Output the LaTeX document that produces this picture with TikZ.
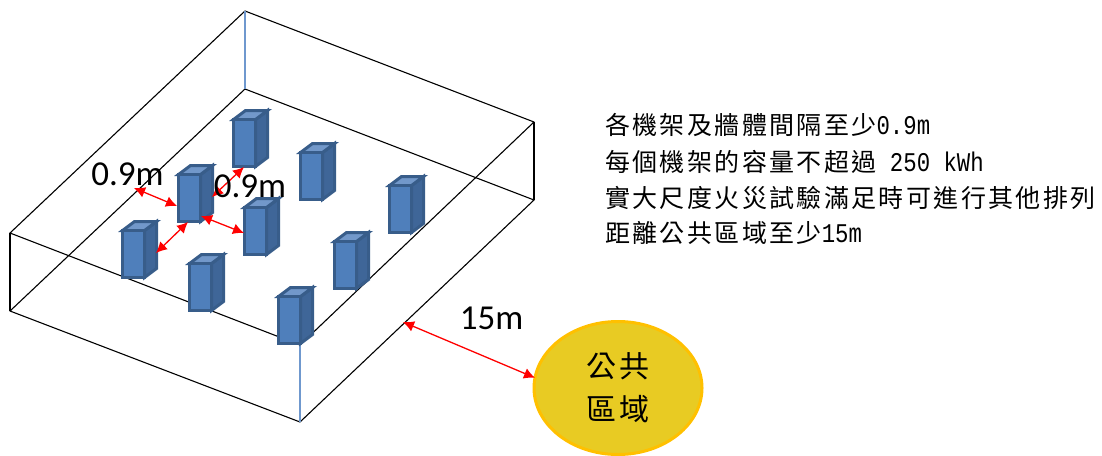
\documentclass[tikz,border=0pt]{standalone}
\usepackage{fontspec}
\usetikzlibrary{shapes.geometric,arrows.meta}
\setmainfont{Carlito}
\newfontfamily\cjkline[LetterSpace=9.5]{Noto Sans CJK TC}
\newfontfamily\cjkpub[LetterSpace=8]{Noto Sans CJK TC}
\newfontfamily\latmono[FakeStretch=0.827]{Liberation Mono}
\newcommand{\lat}[1]{{\fontsize{27}{30}\selectfont\latmono #1}}
\definecolor{rackfront}{HTML}{4F7FBB}
\definecolor{rackedge}{HTML}{385D8A}
\definecolor{rackside}{HTML}{3F6698}
\definecolor{racktop}{HTML}{7298CA}
\definecolor{blueedge}{HTML}{6F98CE}
\definecolor{pubfill}{HTML}{E8CB23}
\definecolor{pubedge}{HTML}{FFC000}
\tikzset{
  x=1pt,y=-1pt,
  wire/.style={draw=black,line width=1.1pt},
  bluewire/.style={draw=blueedge,line width=1.3pt},
  gap/.style={draw=red,line width=1.3pt,{Latex[length=11pt,width=11pt]}-{Latex[length=11pt,width=11pt]},shorten >=0pt,shorten <=0pt},
  note/.style={anchor=base west,inner sep=0pt,font=\fontsize{25}{30}\selectfont\cjkline},
  dim/.style={inner sep=0pt,font=\fontsize{35}{38}\selectfont,text=black},
  public/.style={ellipse,draw=pubedge,fill=pubfill,line width=3pt,minimum width=168pt,minimum height=133pt,inner sep=0pt,outer sep=0pt,align=center,font=\fontsize{30}{43}\selectfont\cjkpub},
  rackbox/.pic={
    \filldraw[fill=rackside,draw=rackedge,line width=3pt,line join=miter] (22,0)--(34,-9)--(34,-56)--(22,-47)--cycle;
    \filldraw[fill=racktop,draw=rackedge,line width=3pt,line join=miter] (0,-47)--(12,-56)--(34,-56)--(22,-47)--cycle;
    \filldraw[fill=rackfront,draw=rackedge,line width=3pt,line join=miter] (0,0) rectangle (22,-47);
  }
}
\begin{document}
\begin{tikzpicture}
\useasboundingbox (0,0) rectangle (1102,455);
% box corners
\coordinate (tb) at (245,11);
\coordinate (tl) at (10,233);
\coordinate (tr) at (534,122);
\coordinate (tf) at (300,345);
\coordinate (bb) at (245,89);
\coordinate (bl) at (10,311);
\coordinate (br) at (534,200);
\coordinate (bf) at (300,422);
\draw[wire,line join=round] (tb)--(tr)--(tf)--(tl)--cycle;
\draw[wire,line join=round] (bb)--(br)--(bf)--(bl)--cycle;
\draw[wire] (tl)--(bl);
\draw[wire] (tr)--(br);
\draw[bluewire] (tb)--(bb);
\draw[bluewire] (tf)--(bf);
% racks
\pic at (233.5,166.5) {rackbox};
\pic at (300.5,199.5) {rackbox};
\pic at (178.5,221.5) {rackbox};
\pic at (244.5,254.5) {rackbox};
\pic at (334.5,288.5) {rackbox};
\pic at (389.5,232.5) {rackbox};
\pic at (122.5,277.5) {rackbox};
\pic at (189.5,310.5) {rackbox};
\pic at (278.5,343.5) {rackbox};
% public area
\node[public] (pub) at (618,388) {公共\\區域};
% dimension end points
\coordinate (a1s) at (134,188); \coordinate (a1e) at (177,206);
\coordinate (a2s) at (212,197); \coordinate (a2e) at (244,167);
\coordinate (a3s) at (156,253); \coordinate (a3e) at (188,222);
\coordinate (a4s) at (201,216); \coordinate (a4e) at (244,233);
\coordinate (a5s) at (403,322);
\draw[gap] (a1s)--(a1e);
\draw[gap] (a2s)--(a2e);
\draw[gap] (a3s)--(a3e);
\draw[gap] (a4s)--(a4e);
\draw[gap] (a5s)--(pub.173);
% labels
\node[dim] (l1) at (127.5,174) {0.9m};
\node[dim] (l2) at (250,186) {0.9m};
\node[dim] (l3) at (491.5,318) {15m};
% notes
\node[note] (n1) at (605,134) {各機架及牆體間隔至少\lat{0.9m}};
\node[note] (n2) at (605,171) {每個機架的容量不超過\lat{~250 kWh}};
\node[note] (n3) at (605,207) {實大尺度火災試驗滿足時可進行其他排列};
\node[note] (n4) at (605,242) {距離公共區域至少\lat{15m}};
\end{tikzpicture}
\end{document}
